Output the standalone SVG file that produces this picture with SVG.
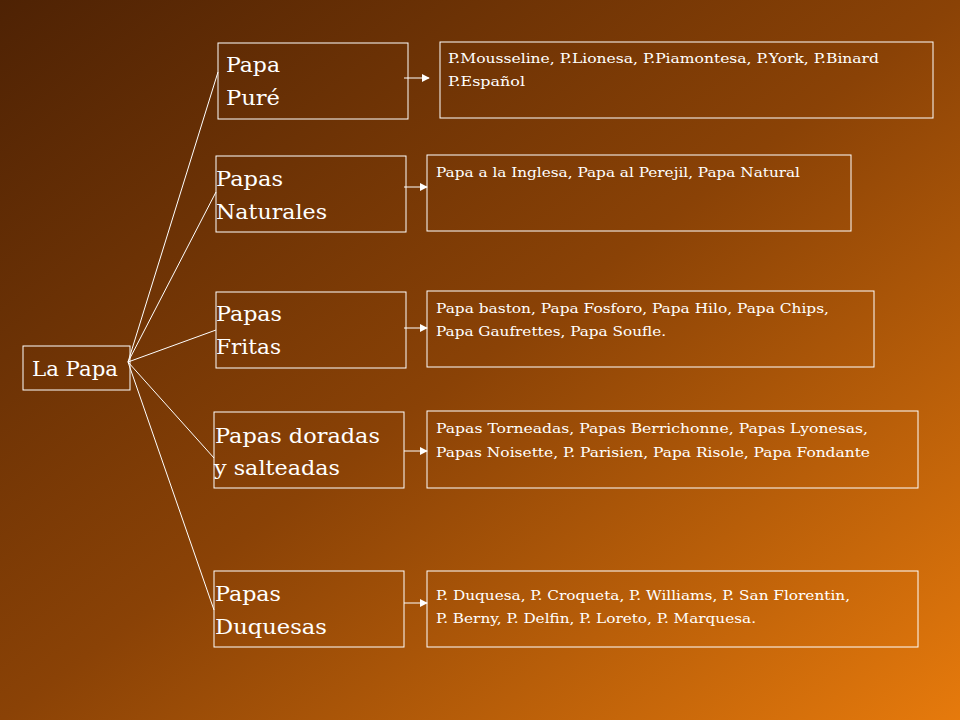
<svg xmlns="http://www.w3.org/2000/svg" width="960" height="720" viewBox="0 0 960 720">
<defs>
<linearGradient id="bg" x1="0" y1="0" x2="1" y2="1">
<stop offset="0" stop-color="#4e2204"/>
<stop offset="0.5" stop-color="#8a4206"/>
<stop offset="1" stop-color="#e67a0c"/>
</linearGradient>
<marker id="ah" viewBox="0 0 10 10" refX="9" refY="5" markerWidth="8" markerHeight="8" orient="auto"><path d="M0,0 L10,5 L0,10 z" fill="#fff"/></marker>
<style>
.b{fill:none;stroke:#fff;stroke-width:1}
.t{fill:#fff;font-family:"DejaVu Serif",serif;font-size:21px}
.s{fill:#fff;font-family:"DejaVu Serif",serif;font-size:13.5px}
.c{stroke:#fff;stroke-width:1;fill:none}
</style>
</defs>
<rect width="960" height="720" fill="url(#bg)"/>
<g id="connectors">
<line class="c" x1="128" y1="362" x2="218" y2="72"/>
<line class="c" x1="128" y1="362" x2="216" y2="192"/>
<line class="c" x1="128" y1="362" x2="216" y2="330"/>
<line class="c" x1="128" y1="362" x2="214" y2="458"/>
<line class="c" x1="128" y1="362" x2="214" y2="610"/>
<line class="c" x1="404" y1="78" x2="429" y2="78" marker-end="url(#ah)"/>
<line class="c" x1="404" y1="187" x2="427" y2="187" marker-end="url(#ah)"/>
<line class="c" x1="404" y1="328" x2="427" y2="328" marker-end="url(#ah)"/>
<line class="c" x1="404" y1="451" x2="427" y2="451" marker-end="url(#ah)"/>
<line class="c" x1="404" y1="603" x2="427" y2="603" marker-end="url(#ah)"/>
</g>
<g id="lapapa"><rect class="b" x="23" y="346" width="107" height="44"/><text class="t" x="32" y="376" textLength="86" lengthAdjust="spacingAndGlyphs">La Papa</text></g>
<g id="pure"><rect class="b" x="218" y="43" width="190" height="76"/><text class="t" x="226" y="72" textLength="54" lengthAdjust="spacingAndGlyphs">Papa</text><text class="t" x="226" y="105" textLength="54" lengthAdjust="spacingAndGlyphs">Puré</text></g>
<g id="naturales"><rect class="b" x="216" y="156" width="190" height="76"/><text class="t" x="216" y="186" textLength="67" lengthAdjust="spacingAndGlyphs">Papas</text><text class="t" x="216" y="219" textLength="111" lengthAdjust="spacingAndGlyphs">Naturales</text></g>
<g id="fritas"><rect class="b" x="216" y="292" width="190" height="76"/><text class="t" x="216" y="321" textLength="66" lengthAdjust="spacingAndGlyphs">Papas</text><text class="t" x="216" y="354" textLength="65" lengthAdjust="spacingAndGlyphs">Fritas</text></g>
<g id="doradas"><rect class="b" x="214" y="412" width="190" height="76"/><text class="t" x="215" y="443" textLength="165" lengthAdjust="spacingAndGlyphs">Papas doradas</text><text class="t" x="214" y="475" textLength="126" lengthAdjust="spacingAndGlyphs">y salteadas</text></g>
<g id="duquesas"><rect class="b" x="214" y="571" width="190" height="76"/><text class="t" x="215" y="601" textLength="66" lengthAdjust="spacingAndGlyphs">Papas</text><text class="t" x="215" y="634" textLength="112" lengthAdjust="spacingAndGlyphs">Duquesas</text></g>
<g id="l1"><rect class="b" x="440" y="42" width="493" height="76"/><text class="s" x="448" y="63" textLength="431" lengthAdjust="spacingAndGlyphs">P.Mousseline, P.Lionesa, P.Piamontesa, P.York, P.Binard</text><text class="s" x="448" y="86" textLength="77" lengthAdjust="spacingAndGlyphs">P.Español</text></g>
<g id="l2"><rect class="b" x="427" y="155" width="424" height="76"/><text class="s" x="436" y="177" textLength="364" lengthAdjust="spacingAndGlyphs">Papa a la Inglesa, Papa al Perejil, Papa Natural</text></g>
<g id="l3"><rect class="b" x="427" y="291" width="447" height="76"/><text class="s" x="436" y="313" textLength="393" lengthAdjust="spacingAndGlyphs">Papa baston, Papa Fosforo, Papa Hilo, Papa Chips,</text><text class="s" x="436" y="336" textLength="230" lengthAdjust="spacingAndGlyphs">Papa Gaufrettes, Papa Soufle.</text></g>
<g id="l4"><rect class="b" x="427" y="411" width="491" height="77"/><text class="s" x="436" y="433" textLength="432" lengthAdjust="spacingAndGlyphs">Papas Torneadas, Papas Berrichonne, Papas Lyonesas,</text><text class="s" x="436" y="457" textLength="434" lengthAdjust="spacingAndGlyphs">Papas Noisette, P. Parisien, Papa Risole, Papa Fondante</text></g>
<g id="l5"><rect class="b" x="427" y="571" width="491" height="76"/><text class="s" x="436" y="600" textLength="414" lengthAdjust="spacingAndGlyphs">P. Duquesa, P. Croqueta, P. Williams, P. San Florentin,</text><text class="s" x="436" y="623" textLength="320" lengthAdjust="spacingAndGlyphs">P. Berny, P. Delfin, P. Loreto, P. Marquesa.</text></g>
</svg>
